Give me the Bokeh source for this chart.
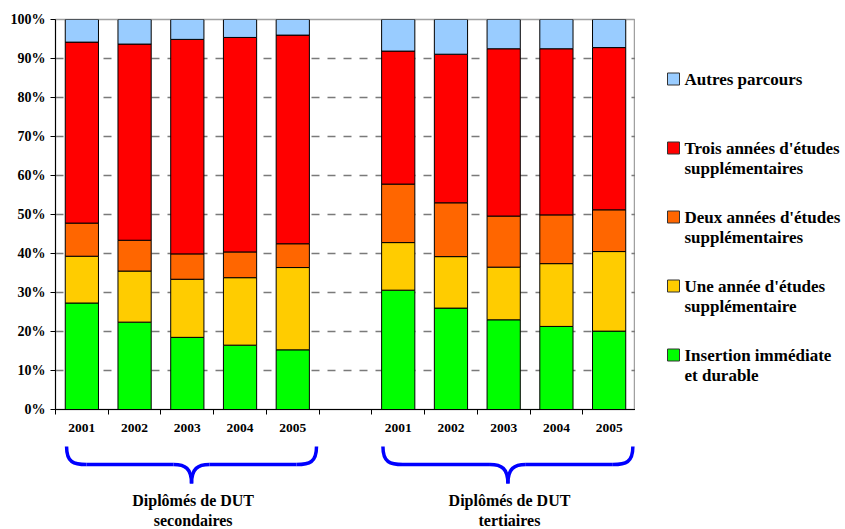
from bokeh.plotting import figure
from bokeh.models import (Range1d, FixedTicker, PrintfTickFormatter, ColumnDataSource)
from bokeh.layouts import column, row
from bokeh.embed import file_html
from bokeh.resources import INLINE
from bokeh.core.properties import value

# ---------------- data ----------------
years = ["2001", "2002", "2003", "2004", "2005"]
group_line1 = ["Diplômés de DUT", "Diplômés de DUT"]
group_line2 = ["secondaires", "tertiaires"]
series_keys = ["insertion", "une", "deux", "trois", "autres"]
series_names = ["Insertion immédiate\net durable",
                "Une année d'études\nsupplémentaire",
                "Deux années d'études\nsupplémentaires",
                "Trois années d'études\nsupplémentaires",
                "Autres parcours"]
colors = ["#00FF00", "#FFCC00", "#FF6600", "#FF0000", "#99CCFF"]

insertion_sec = [27.3, 22.4, 18.5, 16.5, 15.3]
une_sec = [12.0, 13.1, 14.9, 17.3, 21.1]
deux_sec = [8.5, 7.9, 6.5, 6.6, 6.1]
trois_sec = [46.4, 50.3, 55.0, 55.0, 53.5]
autres_sec = [5.8, 6.3, 5.1, 4.6, 4.0]

insertion_ter = [30.6, 26.0, 23.0, 21.3, 20.1]
une_ter = [12.2, 13.2, 13.5, 16.1, 20.4]
deux_ter = [15.0, 13.8, 13.1, 12.5, 10.7]
trois_ter = [34.1, 38.1, 42.9, 42.6, 41.6]
autres_ter = [8.1, 8.9, 7.5, 7.5, 7.2]

y_ticks = list(range(0, 101, 10))

# ---------------- layout constants ----------------
FONT = value("Liberation Serif")
LEFT = 55          # left border of the plot frame
FRAME_W = 580
LEG_W = 210
FRAME_TOP, FRAME_BOTTOM = 19, 409
H1, H2 = 440, 89
BAR_W = 0.63

n = len(years)
# category slots: 5 secondaires, 1 empty gap, 5 tertiaires
group_first_slot = [0, n + 1]
x_pos = [g + i + 0.5 for g in group_first_slot for i in range(n)]
boundaries = list(range(2 * n + 2))

src = ColumnDataSource(dict(
    x=x_pos,
    insertion=insertion_sec + insertion_ter,
    une=une_sec + une_ter,
    deux=deux_sec + deux_ter,
    trois=trois_sec + trois_ter,
    autres=autres_sec + autres_ter,
))

p = figure(width=LEFT + FRAME_W, height=H1, output_backend="svg", toolbar_location=None,
           x_range=Range1d(0, 2 * n + 1), y_range=Range1d(0, 100),
           min_border_left=LEFT, min_border_right=0,
           min_border_top=FRAME_TOP, min_border_bottom=H1 - FRAME_BOTTOM)

p.xgrid.grid_line_color = None
p.ygrid.ticker = FixedTicker(ticks=y_ticks)
p.ygrid.grid_line_color = "#7a7a7a"
p.ygrid.grid_line_dash = "8 8"
p.ygrid.grid_line_width = 1.4
p.outline_line_color = "#a0a0a0"
p.outline_line_width = 1.5

renderers = p.vbar_stack(series_keys, x="x", width=BAR_W, color=colors, source=src,
                         line_color="black", line_width=1)

# y axis
p.yaxis.ticker = FixedTicker(ticks=y_ticks)
p.yaxis.formatter = PrintfTickFormatter(format="%d%%")
p.yaxis.minor_tick_line_color = None
p.yaxis.major_tick_out = 5
p.yaxis.major_tick_in = 0
p.yaxis.major_tick_line_color = "black"
p.yaxis.axis_line_color = "black"
p.yaxis.major_label_standoff = 5
p.yaxis.major_label_text_font = "Liberation Serif"
p.yaxis.major_label_text_font_style = "bold"
p.yaxis.major_label_text_font_size = "14px"
p.yaxis.major_label_text_color = "black"

# x axis: labels at slot centres, tick marks at slot boundaries
p.xaxis.ticker = FixedTicker(ticks=x_pos, minor_ticks=boundaries)
p.xaxis.major_label_overrides = {x: years[i % n] for i, x in enumerate(x_pos)}
p.xaxis.major_tick_line_color = None
p.xaxis.major_tick_out = 0
p.xaxis.major_tick_in = 0
p.xaxis.minor_tick_out = 5
p.xaxis.minor_tick_in = 0
p.xaxis.minor_tick_line_color = "black"
p.xaxis.axis_line_color = "black"
p.xaxis.major_label_standoff = 9
p.xaxis.major_label_text_font = "Liberation Serif"
p.xaxis.major_label_text_font_style = "bold"
p.xaxis.major_label_text_font_size = "13.5px"
p.xaxis.major_label_text_color = "black"

# ---------------- legend panel (right) ----------------
# its frame is aligned with the main frame, so map y directly onto page pixels
leg = figure(width=LEG_W, height=H1, output_backend="svg", toolbar_location=None,
             x_range=Range1d(0, LEG_W), y_range=Range1d(FRAME_BOTTOM, FRAME_TOP),
             min_border_left=0, min_border_right=0,
             min_border_top=FRAME_TOP, min_border_bottom=H1 - FRAME_BOTTOM)
leg.axis.visible = False
leg.grid.grid_line_color = None
leg.outline_line_color = None

order = list(reversed(range(len(series_keys))))     # top entry = last stacked series
first_y, step = 78.5, 69
entry_y = [first_y + step * k for k in range(len(order))]
entry_colors = [colors[i] for i in order]
first_lines = [series_names[i].split("\n")[0] for i in order]
second_lines = [(series_names[i].split("\n") + [""])[1] for i in order]

leg.rect(x=[38] * len(order), y=entry_y, width=12, height=12,
         width_units="screen", height_units="screen",
         fill_color=entry_colors, line_color="#333333", line_width=1)
leg.text(x=[49] * len(order), y=entry_y, text=first_lines, text_font=FONT,
         text_font_style="bold", text_font_size="17px", text_align="left",
         text_baseline="middle", text_color="black")
leg.text(x=[49] * len(order), y=[v + 20 for v in entry_y], text=second_lines, text_font=FONT,
         text_font_style="bold", text_font_size="17px", text_align="left",
         text_baseline="middle", text_color="black")

# ---------------- braces + group labels ----------------
q = figure(width=LEFT + FRAME_W + LEG_W, height=H2, output_backend="svg", toolbar_location=None,
           x_range=p.x_range, y_range=Range1d(H2, 0),
           min_border_left=LEFT, min_border_right=LEG_W,
           min_border_top=0, min_border_bottom=0)
q.axis.visible = False
q.grid.grid_line_color = None
q.outline_line_color = None

# braces span each group's bars (slightly past the last one)
brace_start = [g + 0.21 for g in group_first_slot]
brace_end = [g + n - 0.05 for g in group_first_slot]
y_top, y_mid, y_tip = 6, 24, 43
r_end, r_mid = 0.38, 0.34

bx0, by0, bx1, by1, bcx0, bcy0, bcx1, bcy1 = ([] for _ in range(8))
sx0, sy0, sx1, sy1 = ([] for _ in range(4))
centers = []
for a, b in zip(brace_start, brace_end):
    c = (a + b) / 2
    centers.append(c)
    for end, sgn in ((a, 1), (b, -1)):
        bx0.append(end); by0.append(y_top); bx1.append(end + sgn * r_end); by1.append(y_mid)
        bcx0.append(end); bcy0.append(y_mid - 2); bcx1.append(end + sgn * r_end * 0.35); bcy1.append(y_mid)
    for sgn in (-1, 1):
        bx0.append(c + sgn * r_mid); by0.append(y_mid); bx1.append(c); by1.append(y_tip)
        bcx0.append(c + sgn * r_mid * 0.35); bcy0.append(y_mid); bcx1.append(c); bcy1.append(y_mid + 4)
    sx0 += [a + r_end, c + r_mid]; sx1 += [c - r_mid, b - r_end]
    sy0 += [y_mid, y_mid]; sy1 += [y_mid, y_mid]

q.bezier(x0=bx0, y0=by0, x1=bx1, y1=by1, cx0=bcx0, cy0=bcy0, cx1=bcx1, cy1=bcy1,
         line_color="#0000FF", line_width=3.5)
q.segment(x0=sx0, y0=sy0, x1=sx1, y1=sy1, line_color="#0000FF", line_width=3.5)

label_x = [c + 0.03 for c in centers]
q.text(x=label_x, y=[60] * 2, text=group_line1, text_font=FONT, text_font_style="bold",
       text_font_size="16px", text_align="center", text_baseline="middle",
       text_color="black")
q.text(x=label_x, y=[80] * 2, text=group_line2, text_font=FONT, text_font_style="bold",
       text_font_size="16px", text_align="center", text_baseline="middle",
       text_color="black")

layout = column(row(p, leg, spacing=0), q, spacing=0)
open("out.html", "w").write(file_html(layout, INLINE))
